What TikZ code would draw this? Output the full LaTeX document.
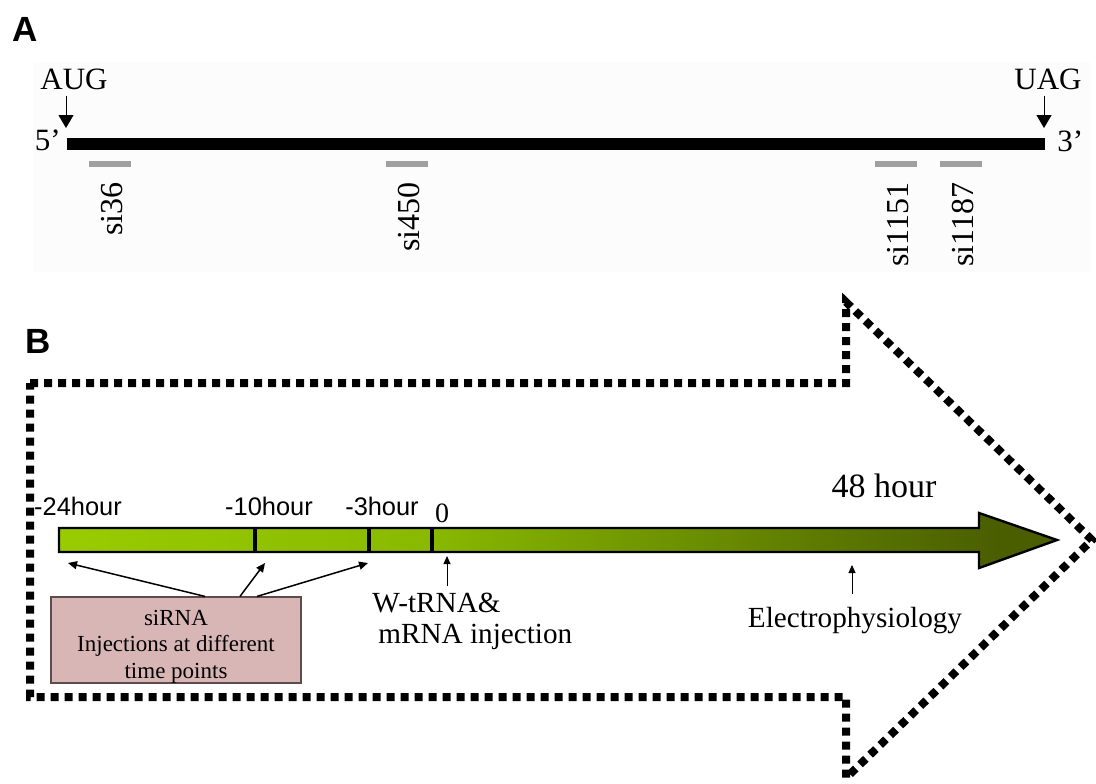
\documentclass[tikz,border=0pt]{standalone}
\usepackage{fontspec}
\setmainfont{Liberation Serif}
\newfontfamily\arialfont{Liberation Sans}
\usetikzlibrary{arrows.meta}
\definecolor{limeg}{RGB}{153,204,0}
\definecolor{limemid}{RGB}{138,186,0}
\definecolor{oliveg}{RGB}{74,94,0}
\definecolor{pinkbox}{RGB}{217,182,182}
\definecolor{boxedge}{RGB}{95,75,75}
\definecolor{sigrey}{RGB}{160,160,160}
\definecolor{panelbg}{RGB}{252,252,252}
\pgfdeclarehorizontalshading{timeshade}{100bp}{color(0bp)=(limeg); color(25bp)=(limeg); color(43bp)=(limemid); color(72bp)=(oliveg); color(100bp)=(oliveg)}

\begin{document}
\begin{tikzpicture}[x=0.5pt,y=-0.5pt,
  lab/.style={inner sep=0pt,font=\fontsize{15.5}{18}\selectfont},
  silab/.style={inner sep=0pt,rotate=90,anchor=east,font=\fontsize{16}{18}\selectfont},
  panel/.style={inner sep=0pt,anchor=north west,font=\arialfont\bfseries\fontsize{17.5}{20}\selectfont},
  hourlab/.style={inner sep=0pt,anchor=base,font=\arialfont\fontsize{12.7}{15}\selectfont},
  note/.style={inner sep=0pt,font=\fontsize{14.6}{17}\selectfont},
  sibox/.style={draw=boxedge,fill=pinkbox,line width=0.6pt,minimum width=125pt,minimum height=43pt,inner sep=0pt},
  codon/.style={line width=0.5pt,-{Triangle[length=6.5pt,width=7.5pt]}},
  pointer/.style={line width=0.75pt,-{Triangle[length=4.5pt,width=4pt]}},
  thinpointer/.style={line width=0.5pt,-{Triangle[length=4pt,width=3.5pt]}},
  outline/.style={line width=4pt,dash pattern=on 4pt off 3pt}]
\useasboundingbox (0,0) rectangle (1096,783);
% panel A
\node[panel] (pA) at (12,17) {A};
\fill[panelbg] (33,62) rectangle (1090,272);
\coordinate (p5) at (67,144);
\coordinate (p3) at (1045,144);
\draw[line width=6pt] (p5) -- (p3);
\node[lab,anchor=base] (aug) at (74,89) {AUG};
\node[lab,anchor=base] (uag) at (1048,89) {UAG};
\coordinate (augtip) at (66,128);
\coordinate (uagtip) at (1044,128);
\draw[codon,shorten <=3pt] (aug.south -| augtip) -- (augtip);
\draw[codon,shorten <=3pt] (uag.south -| uagtip) -- (uagtip);
\node[lab,anchor=base east] (five) at (61,150) {5’};
\node[lab,anchor=base west] (three) at (1057,151) {3’};
\foreach \x/\nm in {110/36,407/450,896/1151,961/1187}{
  \draw[sigrey,line width=3pt] (\x-21,164) -- (\x+21,164);
  \node[silab] (si\nm) at (\x+2,182) {si\nm};
}
% panel B
\node[panel] (pB) at (25,329) {B};
\draw[outline] (30,383) -- (846,383) -- (846,302) -- (1092,540) -- (846,778) -- (846,697) -- (30,697) -- cycle;
\shadedraw[shading=timeshade,line width=1.2pt] (59,528) -- (979,528) -- (979,513) -- (1057,540)
  -- (979,568) -- (979,552) -- (59,552) -- cycle;
\foreach \x in {255,369,432} \draw[line width=1.6pt] (\x,528) -- (\x,552);
\foreach \x/\t [count=\i] in {78/-24hour,269/-10hour,382/-3hour}
  \node[hourlab] (h\i) at (\x,515) {\t};
\node[lab,anchor=base,font=\fontsize{14}{16}\selectfont] (h0) at (442,522) {0};
\node[lab,anchor=base,font=\fontsize{17}{20}\selectfont] (h48) at (884,497) {48 hour};
\node[sibox] (sirna) at (176,640) {};
\node[align=center,anchor=base,inner sep=0pt,font=\fontsize{11.5}{13.25}\selectfont] (sirnatext) at (176,678)
  {siRNA\\Injections at different\\time points};
\coordinate (at24) at (68,563);
\coordinate (at10) at (265,563);
\coordinate (at3) at (368,563);
\draw[pointer] ([xshift=14.5pt]sirna.north) -- (at24);
\draw[pointer] ([xshift=32pt]sirna.north) -- (at10);
\draw[pointer] ([xshift=40.5pt]sirna.north) -- (at3);
\node[note,anchor=base west] (wtrna) at (372,612) {W-tRNA\&};
\node[note,anchor=base west] (mrna) at (378,643) {mRNA injection};
\node[note,anchor=base] (ephys) at (855,627) {Electrophysiology};
\coordinate (at0) at (447,556);
\coordinate (at48) at (852,565);
\draw[thinpointer] ([yshift=3pt]wtrna.north -| at0) -- (at0);
\draw[thinpointer] ([yshift=6pt]ephys.north -| at48) -- (at48);
\end{tikzpicture}
\end{document}
